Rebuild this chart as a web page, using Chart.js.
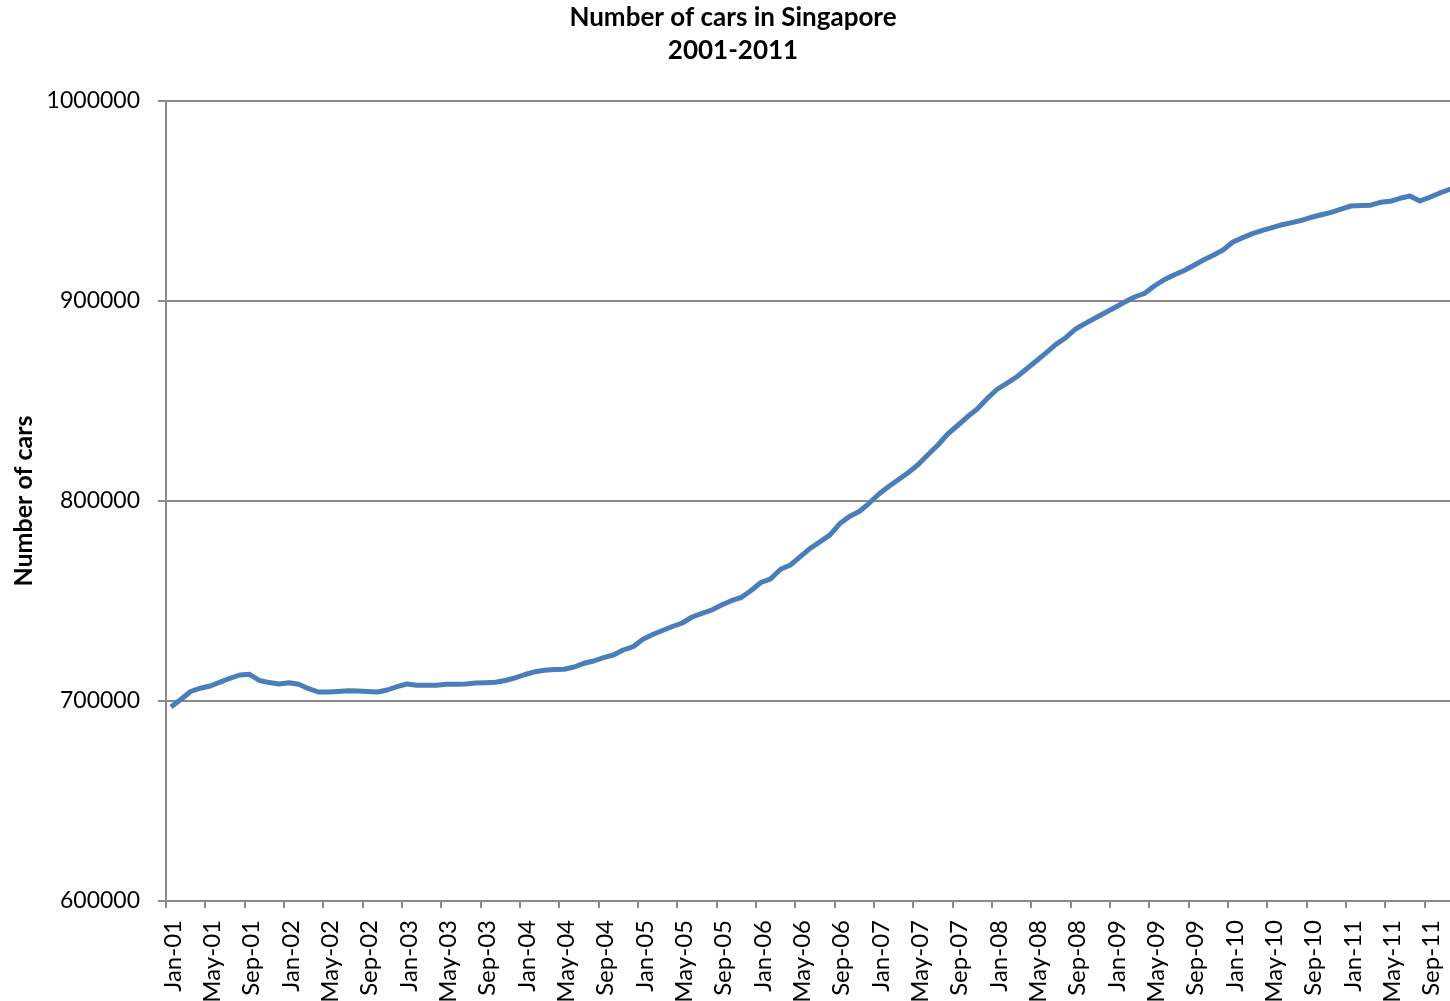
<!DOCTYPE html>
<html>
<head>
<meta charset="utf-8">
<title>Number of cars in Singapore 2001-2011</title>
<script src="https://cdn.jsdelivr.net/npm/chart.js@4/dist/chart.umd.min.js"></script>
<style>
  html, body { margin: 0; padding: 0; background: #ffffff; overflow: hidden; }
  #wrap { width: 1464px; height: 1001px; }
</style>
</head>
<body>
<div id="wrap"><canvas id="chart" width="1464" height="1001"></canvas></div>
<script>
// Monthly car population, Jan 2001 - Dec 2011
const monthNames = ['Jan','Feb','Mar','Apr','May','Jun','Jul','Aug','Sep','Oct','Nov','Dec'];
const yearSuffixes = ['01','02','03','04','05','06','07','08','09','10','11'];

const cars2001 = [697000, 700750, 704750, 706400, 707500, 709400, 711350, 713000, 713350, 710250, 709200, 708500];
const cars2002 = [709150, 708350, 706150, 704500, 704500, 704750, 705100, 705000, 704750, 704500, 705500, 707150];
const cars2003 = [708500, 707850, 707850, 707900, 708350, 708400, 708500, 709000, 709150, 709350, 710250, 711600];
const cars2004 = [713250, 714600, 715350, 715700, 715900, 717000, 718850, 720000, 721650, 723000, 725500, 727150];
const cars2005 = [730900, 733250, 735250, 737250, 739000, 742000, 743850, 745500, 748000, 750150, 751750, 755250];
const cars2006 = [759250, 761100, 765900, 768000, 772150, 776350, 779600, 782900, 788600, 792250, 794750, 798850];
const cars2007 = [803500, 807250, 810750, 814250, 818250, 823250, 828000, 833500, 837750, 842100, 846000, 851200];
const cars2008 = [855750, 858800, 862000, 866000, 870000, 874100, 878300, 881650, 886000, 888800, 891500, 894100];
const cars2009 = [896750, 899500, 902000, 903750, 907500, 910600, 913000, 915150, 917750, 920500, 922900, 925500];
const cars2010 = [929500, 931700, 933700, 935350, 936700, 938150, 939200, 940350, 941900, 943100, 944350, 945900];
const cars2011 = [947500, 947800, 947900, 949350, 949850, 951350, 952500, 950000, 951850, 953900, 955750, 957500];

const yTicks = [600000, 700000, 800000, 900000, 1000000];

const monthLabels = [];
yearSuffixes.forEach(y => monthNames.forEach(m => monthLabels.push(m + '-' + y)));
const carCounts = [].concat(cars2001, cars2002, cars2003, cars2004, cars2005, cars2006,
                            cars2007, cars2008, cars2009, cars2010, cars2011);

const FONT = 'Lato, "Open Sans", sans-serif';
const GRID = '#8a8a8a';
const LABEL_STEP = 4;

// Two-line heading centred over the page
const headingPlugin = {
  id: 'heading',
  afterDraw(chart) {
    const ctx = chart.ctx;
    ctx.save();
    ctx.fillStyle = '#000000';
    ctx.font = 'bold 26px ' + FONT;
    ctx.textAlign = 'center';
    ctx.textBaseline = 'middle';
    ctx.fillText('Number of cars in Singapore', 733, 18);
    ctx.fillText('2001-2011', 733, 51);
    ctx.restore();
  }
};

new Chart(document.getElementById('chart'), {
  type: 'line',
  data: {
    labels: monthLabels,
    datasets: [{
      label: 'Number of cars',
      data: carCounts,
      borderColor: '#4a7ebb',
      backgroundColor: '#4a7ebb',
      borderWidth: 5,
      pointRadius: 0,
      tension: 0,
      fill: false,
      borderJoinStyle: 'round',
      borderCapStyle: 'butt'
    }]
  },
  options: {
    responsive: false,
    animation: false,
    devicePixelRatio: 1,
    layout: { padding: { top: 101, left: 0, right: 0, bottom: 0 } },
    plugins: {
      legend: { display: false },
      title: { display: false },
      tooltip: { enabled: false }
    },
    scales: {
      x: {
        type: 'category',
        offset: true,
        grid: {
          offset: true,
          drawOnChartArea: false,
          drawTicks: true,
          tickLength: 7,
          // tick marks only at the start of every labelled month
          color: ctx => (ctx.index % LABEL_STEP === 0 ? GRID : 'rgba(0,0,0,0)'),
          lineWidth: 2
        },
        border: { color: GRID, width: 2 },
        ticks: {
          autoSkip: false,
          minRotation: 90,
          maxRotation: 90,
          padding: 12,
          labelOffset: 2,
          color: '#000000',
          font: { family: FONT, size: 24 },
          callback: function (value, index) {
            return index % LABEL_STEP === 0 ? monthLabels[index] : '';
          }
        },
        afterFit(scale) {
          scale.height = 100;
          scale.paddingLeft = 0;
          scale.paddingRight = 0;
        }
      },
      y: {
        min: yTicks[0],
        max: yTicks[yTicks.length - 1],
        grid: {
          color: GRID,
          lineWidth: 2,
          drawTicks: true,
          tickLength: 8
        },
        border: { color: GRID, width: 2 },
        afterBuildTicks(scale) {
          scale.ticks = yTicks.map(v => ({ value: v }));
        },
        ticks: {
          padding: 18,
          color: '#000000',
          font: { family: FONT, size: 23 },
          callback: v => String(v)
        },
        title: {
          display: true,
          text: 'Number of cars',
          color: '#000000',
          font: { family: FONT, size: 25, weight: 'bold' },
          padding: { top: 9, bottom: 0 }
        },
        afterFit(scale) {
          scale.width = 166;
        }
      }
    }
  },
  plugins: [headingPlugin]
});
</script>
</body>
</html>
